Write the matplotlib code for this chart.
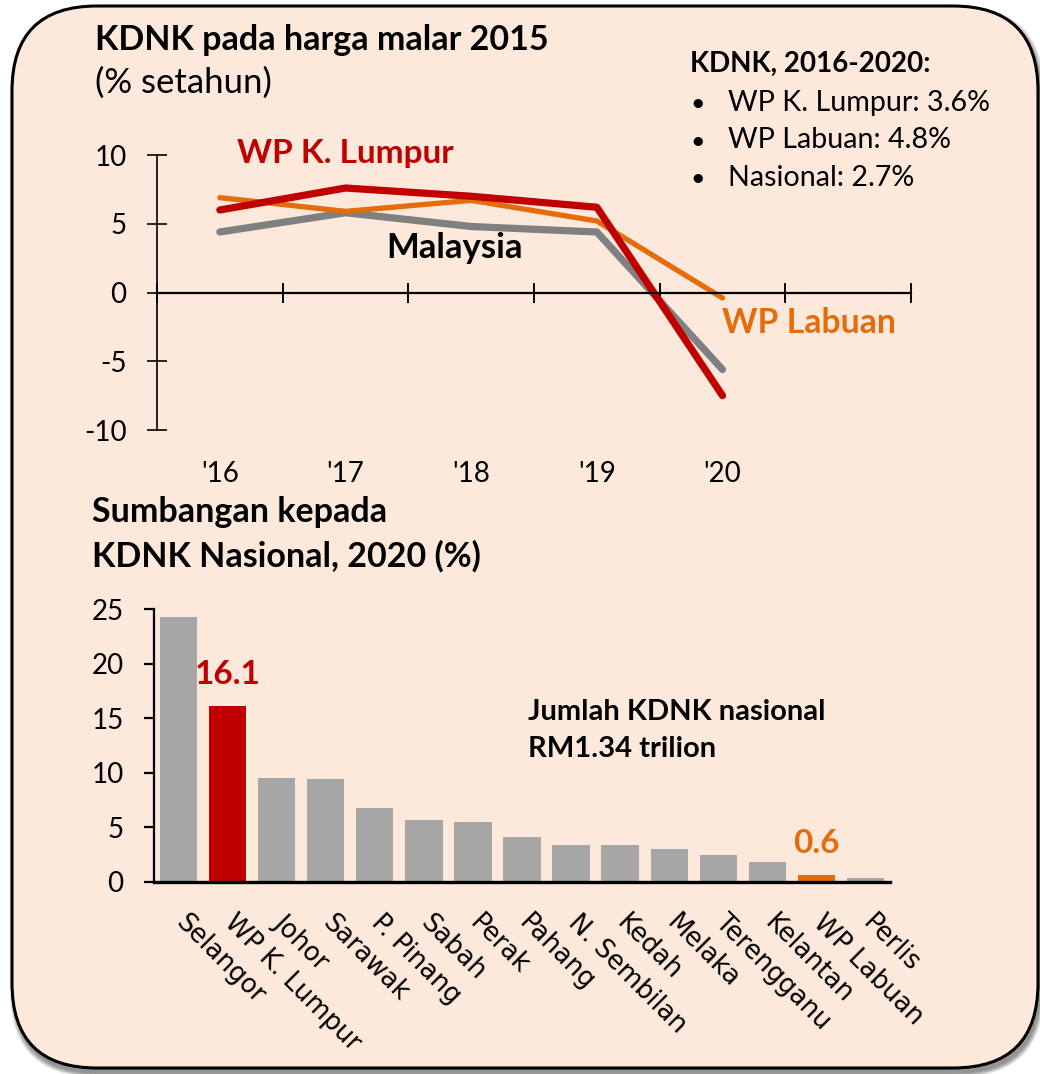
import matplotlib
matplotlib.use('Agg')
import matplotlib.pyplot as plt
from matplotlib.patches import FancyBboxPatch
from matplotlib.transforms import ScaledTranslation
import numpy as np

# ---------------- data ----------------
years = ["'16", "'17", "'18", "'19", "'20"]
kl_growth = [6.0, 7.6, 7.0, 6.2, -7.5]
msia_growth = [4.4, 5.8, 4.8, 4.4, -5.6]
labuan_growth = [6.9, 5.9, 6.7, 5.2, -0.4]

states = ['Selangor', 'WP K. Lumpur', 'Johor', 'Sarawak', 'P. Pinang', 'Sabah',
          'Perak', 'Pahang', 'N. Sembilan', 'Kedah', 'Melaka', 'Terengganu',
          'Kelantan', 'WP Labuan', 'Perlis']
share_2020 = [24.3, 16.1, 9.5, 9.4, 6.8, 5.7, 5.5, 4.1, 3.4, 3.4, 3.0, 2.5, 1.8, 0.6, 0.4]

yticks_top = [-10, -5, 0, 5, 10]
yticks_bot = [0, 5, 10, 15, 20, 25]

legend_title = 'KDNK, 2016-2020:'
legend_items = ['WP K. Lumpur: 3.6%', 'WP Labuan: 4.8%', 'Nasional: 2.7%']

# ---------------- style ----------------
RED = '#C00000'
ORANGE = '#E46C0A'
GRAY_LINE = '#808080'
GRAY_BAR = '#A6A6A6'
BG = '#FDE9DB'

plt.rcParams['font.family'] = ['Lato', 'DejaVu Sans']

W, H = 1040, 1074
fig = plt.figure(figsize=(W / 100, H / 100), dpi=100, facecolor='white')

# background frame in pixel coordinates
bg = fig.add_axes([0, 0, 1, 1], zorder=-5)
bg.set_xlim(0, W)
bg.set_ylim(H, 0)
bg.axis('off')
x0, y0, fw, fh, rad = 12, 6, 1026, 1062, 85
for k in range(10, 0, -1):
    sh = FancyBboxPatch((x0 - k * 0.4 + 2, y0 + 4 - k * 0.4), fw + k * 0.8, fh + k * 0.8 + 1,
                        boxstyle=f'round,pad=0,rounding_size={rad}',
                        facecolor='black', edgecolor='none', alpha=0.05)
    bg.add_patch(sh)
frame = FancyBboxPatch((x0, y0), fw, fh, boxstyle=f'round,pad=0,rounding_size={rad}',
                       facecolor=BG, edgecolor='black', linewidth=2.2)
bg.add_patch(frame)

# titles and notes (pixel coords)
bg.text(95, 50, 'KDNK pada harga malar 2015', fontsize=24.5, fontweight='bold', va='baseline')
bg.text(95, 93, '(% setahun)', fontsize=25, va='baseline')
bg.text(690, 72, legend_title, fontsize=20, fontweight='bold', va='baseline')
for i, item in enumerate(legend_items):
    yb = 111 + i * 37.5
    bg.text(690, yb, '•', fontsize=18, va='baseline')
    bg.text(728, yb, item, fontsize=20.6, va='baseline')
bg.text(92, 522, 'Sumbangan kepada', fontsize=24.5, fontweight='bold', va='baseline')
bg.text(92, 567, 'KDNK Nasional, 2020 (%)', fontsize=24.5, fontweight='bold', va='baseline')
bg.text(528, 720, 'Jumlah KDNK nasional', fontsize=21, fontweight='bold', va='baseline')
bg.text(528, 757, 'RM1.34 trilion', fontsize=21, fontweight='bold', va='baseline')
bg.text(237, 163, 'WP K. Lumpur', fontsize=24, fontweight='bold', color=RED, va='baseline')
bg.text(386, 258, 'Malaysia', fontsize=25, fontweight='bold', color='black', va='baseline')
bg.text(722, 333, 'WP Labuan', fontsize=24.3, fontweight='bold', color=ORANGE, va='baseline')

# ---------------- top line chart ----------------
ax1 = fig.add_axes([157 / W, 1 - 430 / H, 754 / W, 275 / H])
ax1.set_facecolor('none')
x = np.arange(1, len(years) + 1)
ax1.plot(x, msia_growth, color=GRAY_LINE, lw=5.2, solid_capstyle='round', solid_joinstyle='round')
ax1.plot(x, labuan_growth, color=ORANGE, lw=3.8, solid_capstyle='round', solid_joinstyle='round')
ax1.plot(x, kl_growth, color=RED, lw=5.2, solid_capstyle='round', solid_joinstyle='round')
ax1.set_xlim(0.5, len(years) + 1.5)
ax1.set_ylim(-10, 10)
for s in ['top', 'right']:
    ax1.spines[s].set_visible(False)
ax1.spines['bottom'].set_position(('data', 0))
ax1.spines['bottom'].set_linewidth(1.6)
ax1.spines['left'].set_linewidth(1.2)
ax1.set_xticks(np.arange(0.5, len(years) + 2, 1))
ax1.set_xticklabels([])
ax1.tick_params(axis='x', direction='inout', length=14, width=1.4)
ax1.set_yticks(yticks_top)
ax1.set_yticklabels([str(v) for v in yticks_top])
ax1.tick_params(axis='y', direction='inout', length=14, width=1.2, labelsize=20, pad=15)
for xi, lab in zip(x, years):
    ax1.text(xi, -13.8, lab, ha='center', va='baseline', fontsize=20)

# ---------------- bottom bar chart ----------------
ax2 = fig.add_axes([154 / W, 1 - 882 / H, 736 / W, 273 / H])
ax2.set_facecolor('none')
bar_colors = [GRAY_BAR] * len(states)
bar_colors[states.index('WP K. Lumpur')] = RED
bar_colors[states.index('WP Labuan')] = ORANGE
xb = np.arange(len(states))
ax2.bar(xb, share_2020, width=0.76, color=bar_colors)
ax2.set_xlim(-0.5, len(states) - 0.5)
ax2.set_ylim(0, 25)
for s in ['top', 'right']:
    ax2.spines[s].set_visible(False)
ax2.spines['bottom'].set_linewidth(2.4)
ax2.spines['left'].set_linewidth(1.6)
ax2.set_yticks(yticks_bot)
ax2.tick_params(axis='y', direction='out', length=7, width=1.6, labelsize=20, pad=15)
ax2.set_xticks(xb)
ax2.set_xticklabels(states, rotation=-45, ha='left', rotation_mode='anchor',
                    fontsize=18.5, family='DejaVu Sans')
ax2.tick_params(axis='x', length=0, pad=20)
shift = ScaledTranslation(10 / 100, 0, fig.dpi_scale_trans)
for lbl in ax2.get_xticklabels():
    lbl.set_transform(lbl.get_transform() + shift)

for name, col in [('WP K. Lumpur', RED), ('WP Labuan', ORANGE)]:
    i = states.index(name)
    ax2.annotate(f'{share_2020[i]:.1f}', (xb[i], share_2020[i]), xytext=(0, 16),
                 textcoords='offset points', ha='center', va='baseline',
                 fontsize=24, fontweight='bold', color=col)

fig.savefig('out.png', dpi=100, facecolor='white')
